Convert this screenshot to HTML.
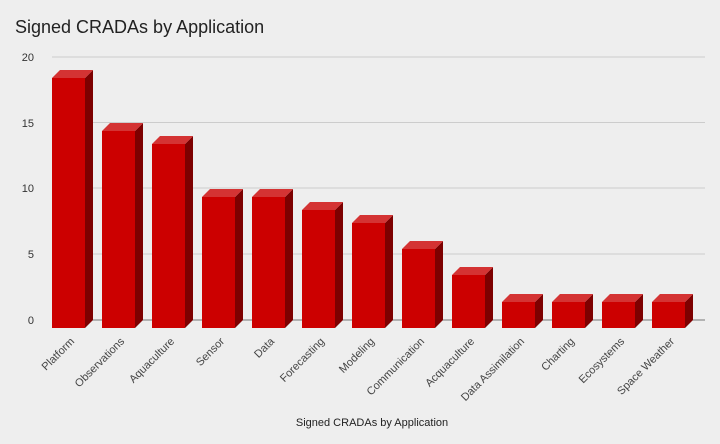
<!DOCTYPE html>
<html><head><meta charset="utf-8"><style>
html,body{margin:0;padding:0;background:#eeeeee;}
svg{display:block;font-family:"Liberation Sans",Arial,sans-serif;}
</style></head><body>
<svg width="720" height="444" viewBox="0 0 720 444" xmlns="http://www.w3.org/2000/svg">
<rect width="720" height="444" fill="#eeeeee"/>
<text x="15" y="33" font-size="18" fill="#222">Signed CRADAs by Application</text>
<g stroke="#cccccc" stroke-width="1">
<line x1="52" y1="57" x2="705" y2="57"/>
<line x1="52" y1="122.5" x2="705" y2="122.5"/>
<line x1="52" y1="188" x2="705" y2="188"/>
<line x1="52" y1="254" x2="705" y2="254"/>
</g>
<line x1="52" y1="320" x2="705" y2="320" stroke="#777" stroke-width="1"/>
<g font-size="11" fill="#333" text-anchor="end">
<text x="34" y="61">20</text>
<text x="34" y="127">15</text>
<text x="34" y="192">10</text>
<text x="34" y="258">5</text>
<text x="34" y="324">0</text>
</g>
<g id="bars">
<!-- x, top -->
<g><rect x="52" y="78" width="33" height="250" fill="#cc0000"/><polygon points="85,78 93,70 93,320 85,328" fill="#7d0000"/><polygon points="52,78 60,70 93,70 85,78" fill="#d43333"/></g>
<g><rect x="102" y="131" width="33" height="197" fill="#cc0000"/><polygon points="135,131 143,123 143,320 135,328" fill="#7d0000"/><polygon points="102,131 110,123 143,123 135,131" fill="#d43333"/></g>
<g><rect x="152" y="144" width="33" height="184" fill="#cc0000"/><polygon points="185,144 193,136 193,320 185,328" fill="#7d0000"/><polygon points="152,144 160,136 193,136 185,144" fill="#d43333"/></g>
<g><rect x="202" y="197" width="33" height="131" fill="#cc0000"/><polygon points="235,197 243,189 243,320 235,328" fill="#7d0000"/><polygon points="202,197 210,189 243,189 235,197" fill="#d43333"/></g>
<g><rect x="252" y="197" width="33" height="131" fill="#cc0000"/><polygon points="285,197 293,189 293,320 285,328" fill="#7d0000"/><polygon points="252,197 260,189 293,189 285,197" fill="#d43333"/></g>
<g><rect x="302" y="210" width="33" height="118" fill="#cc0000"/><polygon points="335,210 343,202 343,320 335,328" fill="#7d0000"/><polygon points="302,210 310,202 343,202 335,210" fill="#d43333"/></g>
<g><rect x="352" y="223" width="33" height="105" fill="#cc0000"/><polygon points="385,223 393,215 393,320 385,328" fill="#7d0000"/><polygon points="352,223 360,215 393,215 385,223" fill="#d43333"/></g>
<g><rect x="402" y="249" width="33" height="79" fill="#cc0000"/><polygon points="435,249 443,241 443,320 435,328" fill="#7d0000"/><polygon points="402,249 410,241 443,241 435,249" fill="#d43333"/></g>
<g><rect x="452" y="275" width="33" height="53" fill="#cc0000"/><polygon points="485,275 493,267 493,320 485,328" fill="#7d0000"/><polygon points="452,275 460,267 493,267 485,275" fill="#d43333"/></g>
<g><rect x="502" y="302" width="33" height="26" fill="#cc0000"/><polygon points="535,302 543,294 543,320 535,328" fill="#7d0000"/><polygon points="502,302 510,294 543,294 535,302" fill="#d43333"/></g>
<g><rect x="552" y="302" width="33" height="26" fill="#cc0000"/><polygon points="585,302 593,294 593,320 585,328" fill="#7d0000"/><polygon points="552,302 560,294 593,294 585,302" fill="#d43333"/></g>
<g><rect x="602" y="302" width="33" height="26" fill="#cc0000"/><polygon points="635,302 643,294 643,320 635,328" fill="#7d0000"/><polygon points="602,302 610,294 643,294 635,302" fill="#d43333"/></g>
<g><rect x="652" y="302" width="33" height="26" fill="#cc0000"/><polygon points="685,302 693,294 693,320 685,328" fill="#7d0000"/><polygon points="652,302 660,294 693,294 685,302" fill="#d43333"/></g>
</g>
<g font-size="11" fill="#444" text-anchor="end">
<text transform="translate(75,342) rotate(-45)">Platform</text>
<text transform="translate(125,342) rotate(-45)">Observations</text>
<text transform="translate(175,342) rotate(-45)">Aquaculture</text>
<text transform="translate(225,342) rotate(-45)">Sensor</text>
<text transform="translate(275,342) rotate(-45)">Data</text>
<text transform="translate(325,342) rotate(-45)">Forecasting</text>
<text transform="translate(375,342) rotate(-45)">Modeling</text>
<text transform="translate(425,342) rotate(-45)">Communication</text>
<text transform="translate(475,342) rotate(-45)">Acquaculture</text>
<text transform="translate(525,342) rotate(-45)">Data Assimilation</text>
<text transform="translate(575,342) rotate(-45)">Charting</text>
<text transform="translate(625,342) rotate(-45)">Ecosystems</text>
<text transform="translate(675,342) rotate(-45)">Space Weather</text>
</g>
<text x="372" y="426" font-size="11" fill="#222" text-anchor="middle">Signed CRADAs by Application</text>
</svg>
</body></html>
